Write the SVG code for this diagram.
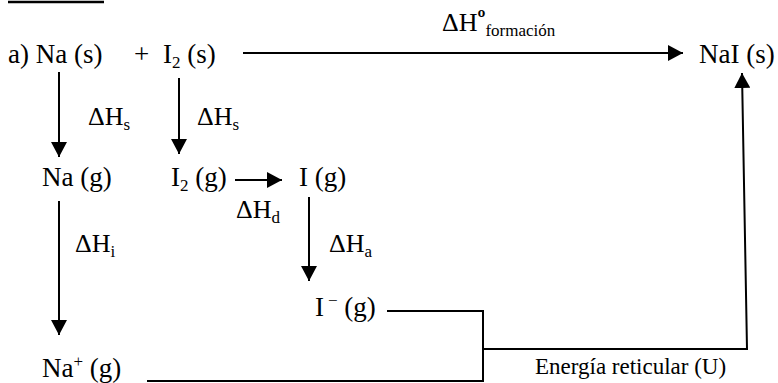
<svg xmlns="http://www.w3.org/2000/svg" width="778" height="383" viewBox="0 0 778 383">
<style>
  .t { font-size: 27px; }
  .d { font-size: 26px; }
  .s { font-size: 17px; }
  .e { font-size: 23px; }
  .c line, .c path { stroke: #000; stroke-width: 2; fill: none; }
</style>
<defs>
  <marker id="ah" markerUnits="userSpaceOnUse" markerWidth="16" markerHeight="16" refX="15" refY="8" orient="auto">
    <path d="M0,0 L15,8 L0,16 z" fill="#000"/>
  </marker>
</defs>
<rect width="778" height="383" fill="#fff"/>
<line x1="8" y1="2" x2="104" y2="2" stroke="#000" stroke-width="2.5"/>
<g font-family="'Liberation Serif', 'DejaVu Serif', serif" fill="#000">
<g id="na_s"><text class="t" x="8" y="63">a) Na (s)</text></g>
<g id="plus"><text class="t" x="134" y="63">+</text></g>
<g id="i2_s"><text class="t" x="163" y="63">I<tspan class="s" dy="5">2</tspan><tspan dy="-5"> (s)</tspan></text></g>
<g id="nai_s"><text class="t" x="699" y="63">NaI (s)</text></g>
<g id="na_g"><text class="t" x="42" y="186">Na (g)</text></g>
<g id="i2_g"><text class="t" x="171" y="186">I<tspan class="s" dy="5">2</tspan><tspan dy="-5"> (g)</tspan></text></g>
<g id="i_g"><text class="t" x="299" y="186">I (g)</text></g>
<g id="i_minus_g"><text class="t" x="315" y="316">I<tspan class="s" dx="4" dy="-10">−</tspan><tspan dy="10"> (g)</tspan></text></g>
<g id="na_plus_g"><text class="t" x="42" y="377">Na<tspan class="s" dy="-10">+</tspan><tspan dy="10"> (g)</tspan></text></g>

<g id="labels">
  <text class="d" x="442" y="31">ΔH<tspan dy="-4" font-size="24" font-weight="bold">º</tspan><tspan class="s" dy="9">formación</tspan></text>
  <text class="d" x="88" y="125">ΔH<tspan class="s" dy="5">s</tspan></text>
  <text class="d" x="197" y="125">ΔH<tspan class="s" dy="5">s</tspan></text>
  <text class="d" x="236" y="218">ΔH<tspan class="s" dy="5">d</tspan></text>
  <text class="d" x="75" y="252">ΔH<tspan class="s" dy="5">i</tspan></text>
  <text class="d" x="329" y="252">ΔH<tspan class="s" dy="5">a</tspan></text>
  <text class="e" x="535" y="374">Energía reticular (U)</text>
</g>
</g>
<g id="connectors" class="c">
  <line x1="243" y1="53" x2="683" y2="53" marker-end="url(#ah)"/>
  <line x1="59" y1="72" x2="59" y2="157" marker-end="url(#ah)"/>
  <line x1="179" y1="78" x2="179" y2="154" marker-end="url(#ah)"/>
  <line x1="235" y1="180" x2="282" y2="180" marker-end="url(#ah)"/>
  <line x1="59" y1="201" x2="59" y2="335" marker-end="url(#ah)"/>
  <line x1="309" y1="197" x2="309" y2="281" marker-end="url(#ah)"/>
  <path d="M387,311 H483 V381 H147"/>
  <path d="M483,349 H747 L742,73" marker-end="url(#ah)"/>
</g>
</svg>
